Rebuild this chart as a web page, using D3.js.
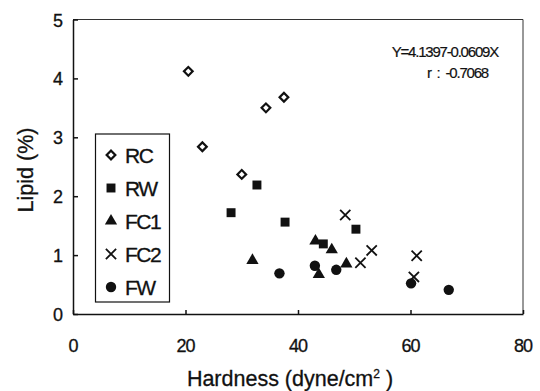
<!DOCTYPE html>
<html>
<head>
<meta charset="utf-8">
<script src="https://cdn.jsdelivr.net/npm/d3@7"></script>
<style>
  body { margin: 0; background: #fff; }
  text { font-family: "Liberation Sans", Arial, sans-serif; fill: #111; stroke: #111; stroke-width: 0.3px; }
  .tick-label { font-size: 18px; letter-spacing: -1px; }
  .axis-title { font-size: 21.5px; }
  .legend-label { font-size: 21px; letter-spacing: -1.5px; }
  .note { font-size: 15px; letter-spacing: -1.2px; stroke-width: 0.2px; white-space: pre; }
</style>
</head>
<body>
<div id="wrapper"></div>
<script>
// data (hardness, lipid)
const rcX  = [20.5, 23.0, 30.0, 34.3, 37.5]
const rcY  = [4.12, 2.84, 2.37, 3.50, 3.68]
const rwX  = [28.1, 32.7, 37.7, 44.5, 50.3]
const rwY  = [1.72, 2.19, 1.56, 1.19, 1.44]
const fc1X = [31.9, 43.1, 46.0, 43.7, 48.6]
const fc1Y = [0.91, 1.24, 1.09, 0.67, 0.85]
const fc2X = [48.4, 51.1, 53.1, 61.1, 60.6]
const fc2Y = [1.68, 0.87, 1.08, 0.99, 0.63]
const fwX  = [36.7, 43.0, 46.8, 60.1, 66.8]
const fwY  = [0.69, 0.82, 0.75, 0.52, 0.41]

const seriesNames = ["RC", "RW", "FC1", "FC2", "FW"]
const xTicks = [0, 20, 40, 60, 80]
const yTicks = [0, 1, 2, 3, 4, 5]

async function drawChart() {
  const series = [
    { name: "RC",  xs: rcX,  ys: rcY },
    { name: "RW",  xs: rwX,  ys: rwY },
    { name: "FC1", xs: fc1X, ys: fc1Y },
    { name: "FC2", xs: fc2X, ys: fc2Y },
    { name: "FW",  xs: fwX,  ys: fwY },
  ]

  // dimensions
  const width = 540
  const height = 391
  const plot = { left: 73, right: 523, top: 19.5, bottom: 314 }

  const wrapper = d3.select("#wrapper")
    .append("svg")
      .attr("width", width)
      .attr("height", height)

  // scales
  const xScale = d3.scaleLinear()
    .domain([0, 80])
    .range([plot.left, plot.right])

  const yScale = d3.scaleLinear()
    .domain([0, 5])
    .range([plot.bottom, plot.top])

  // frame: top and right lighter
  wrapper.append("path")
    .attr("d", `M${plot.left},${plot.top}H${plot.right}V${plot.bottom}`)
    .attr("fill", "none")
    .attr("stroke", "#333")
    .attr("stroke-width", 1)

  // axes, ticks point inwards
  const xAxis = d3.axisBottom(xScale)
    .tickValues(xTicks)
    .tickSizeInner(-4)
    .tickSizeOuter(0)
    .tickFormat("")
  wrapper.append("g")
    .attr("transform", `translate(0,${plot.bottom})`)
    .call(xAxis)
    .call(g => g.selectAll("line, path").attr("stroke", "#111").attr("stroke-width", 1.5))

  const yAxis = d3.axisLeft(yScale)
    .tickValues(yTicks)
    .tickSizeInner(-5)
    .tickSizeOuter(0)
    .tickFormat("")
  wrapper.append("g")
    .attr("transform", `translate(${plot.left},0)`)
    .call(yAxis)
    .call(g => g.selectAll("line, path").attr("stroke", "#111").attr("stroke-width", 1.5))

  // tick labels
  wrapper.selectAll(".x-label")
    .data(xTicks)
    .join("text")
      .attr("class", "tick-label")
      .attr("x", d => xScale(d))
      .attr("y", 352)
      .attr("text-anchor", "middle")
      .text(d => d)

  wrapper.selectAll(".y-label")
    .data(yTicks)
    .join("text")
      .attr("class", "tick-label")
      .attr("x", 62)
      .attr("y", d => yScale(d) + 7)
      .attr("text-anchor", "end")
      .attr("font-size", 17)
      .text(d => d)

  // axis titles
  const xTitle = wrapper.append("text")
    .attr("class", "axis-title")
    .attr("x", 290)
    .attr("y", 386)
    .attr("text-anchor", "middle")
  xTitle.append("tspan").text("Hardness (dyne/cm")
  xTitle.append("tspan").attr("font-size", 12).attr("dy", -8).text("2")
  xTitle.append("tspan").attr("dy", 8).text(" )")

  wrapper.append("text")
    .attr("class", "axis-title")
    .attr("transform", `translate(33,170) rotate(-90)`)
    .attr("text-anchor", "middle")
    .text("Lipid (%)")

  // symbols
  const diamond = d3.symbol(d3.symbolSquare, 38)()
  const square = d3.symbol(d3.symbolSquare, 80)()
  const triangle = d3.symbol(d3.symbolTriangle, 65)()
  const cross = d3.symbol(d3.symbolTimes, 70)()
  const circle = d3.symbol(d3.symbolCircle, 85)()

  const styles = {
    RC:  { d: diamond,  rotate: 45, fill: "#fff",  stroke: "#111", sw: 2.2 },
    RW:  { d: square,   rotate: 0,  fill: "#111",  stroke: "none", sw: 0 },
    FC1: { d: triangle, rotate: 0,  fill: "#111",  stroke: "none", sw: 0 },
    FC2: { d: cross,    rotate: 0,  fill: "none",  stroke: "#111", sw: 1.8 },
    FW:  { d: circle,   rotate: 0,  fill: "#111",  stroke: "none", sw: 0 },
  }

  const drawSymbol = (sel, name) => {
    const s = styles[name]
    sel.append("path")
      .attr("d", s.d)
      .attr("transform", `rotate(${s.rotate})`)
      .attr("fill", s.fill)
      .attr("stroke", s.stroke)
      .attr("stroke-width", s.sw)
  }

  // points
  series.forEach(s => {
    s.xs.forEach((xv, i) => {
      const g = wrapper.append("g")
        .attr("transform", `translate(${xScale(xv)},${yScale(s.ys[i])})`)
      drawSymbol(g, s.name)
    })
  })

  // legend
  const legend = wrapper.append("g")
  legend.append("rect")
    .attr("x", 95.5)
    .attr("y", 134)
    .attr("width", 74)
    .attr("height", 168)
    .attr("fill", "#fff")
    .attr("stroke", "#111")
    .attr("stroke-width", 1.2)

  seriesNames.forEach((name, i) => {
    const y = 155 + i * 33
    const g = legend.append("g")
      .attr("transform", `translate(111,${y})`)
    drawSymbol(g, name)
    legend.append("text")
      .attr("class", "legend-label")
      .attr("x", 125)
      .attr("y", y + 8)
      .text(name)
  })

  // regression note
  wrapper.append("text")
    .attr("class", "note")
    .attr("x", 498)
    .attr("y", 57)
    .attr("text-anchor", "end")
    .text("Y=4.1397-0.0609X")
  wrapper.append("text")
    .attr("class", "note")
    .attr("x", 488)
    .attr("y", 78)
    .attr("text-anchor", "end")
    .text("r  :  -0.7068")
}
drawChart()
</script>
</body>
</html>
